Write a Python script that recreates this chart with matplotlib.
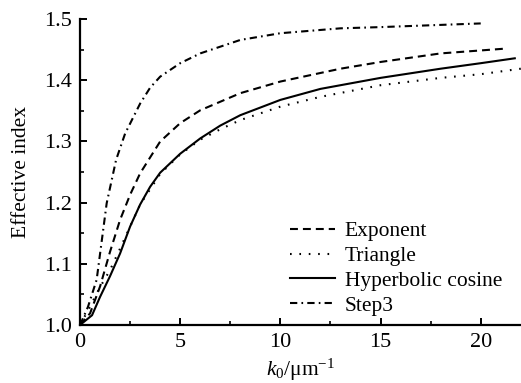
import matplotlib
matplotlib.use("Agg")
import matplotlib.pyplot as plt
from matplotlib.ticker import MultipleLocator

plt.rcParams['font.family'] = ['Liberation Serif', 'DejaVu Serif']
plt.rcParams['mathtext.fontset'] = 'custom'
plt.rcParams['mathtext.rm'] = 'Liberation Serif'
plt.rcParams['mathtext.it'] = 'Liberation Serif:italic'

# Effective index vs k0 for four refractive-index profiles
k_exp = [0, 0.5, 1, 1.5, 2, 2.5, 3, 4, 5, 6, 8, 10, 13, 15, 18, 21.3]
n_exp = [1.0, 1.019, 1.063, 1.12, 1.172, 1.213, 1.248, 1.3, 1.33, 1.351, 1.379, 1.398, 1.419, 1.430, 1.444, 1.452]

k_tri = [0, 0.5, 1, 1.5, 2, 3, 4, 5, 6, 7, 8, 10, 12, 15, 18, 20, 22]
n_tri = [1.0, 1.03, 1.062, 1.09, 1.125, 1.197, 1.247, 1.279, 1.303, 1.32, 1.335, 1.357, 1.373, 1.392, 1.404, 1.410, 1.419]

k_cosh = [0, 0.6, 1, 1.5, 2, 2.5, 3, 3.5, 4, 5, 6, 7, 8, 10, 12, 15, 18, 20, 21.7]
n_cosh = [1.0, 1.016, 1.046, 1.08, 1.117, 1.161, 1.197, 1.226, 1.249, 1.28, 1.305, 1.326, 1.343, 1.368, 1.386, 1.404, 1.419, 1.428, 1.436]

k_step = [0, 0.4, 0.83, 1.33, 1.8, 2.25, 3, 3.5, 4, 5, 6, 8, 10, 13, 15, 20]
n_step = [1.0, 1.03, 1.074, 1.199, 1.27, 1.313, 1.362, 1.388, 1.406, 1.428, 1.444, 1.466, 1.477, 1.485, 1.487, 1.493]

fig = plt.figure(figsize=(5.21, 3.83), dpi=100)
ax = fig.add_axes([0.1536, 0.1514, 0.846, 0.7986])

lw = 1.5
ax.plot(k_exp, n_exp, color='black', lw=lw, linestyle=(0, (3.8, 2.4)), label='Exponent')
ax.plot(k_tri, n_tri, color='black', lw=lw, linestyle=(0, (0.8, 3.7)), label='Triangle')
ax.plot(k_cosh, n_cosh, color='black', lw=lw, linestyle='-', label='Hyperbolic cosine')
ax.plot(k_step, n_step, color='black', lw=lw, linestyle=(0, (3.5, 2, 0.8, 2)), label='Step3')

ax.set_xlim(0, 22)
ax.set_ylim(1.0, 1.5)
ax.xaxis.set_minor_locator(MultipleLocator(2.5))
ax.yaxis.set_minor_locator(MultipleLocator(0.05))
ax.set_xticks([0, 5, 10, 15, 20])
ax.set_yticks([1.0, 1.1, 1.2, 1.3, 1.4, 1.5])
ax.set_yticklabels(['1.0', '1.1', '1.2', '1.3', '1.4', '1.5'])

for s in ['top', 'right']:
    ax.spines[s].set_visible(False)
for s in ['left', 'bottom']:
    ax.spines[s].set_linewidth(1.6)

ax.tick_params(which='major', direction='in', length=5, width=1.4, labelsize=16, pad=6)
ax.tick_params(which='minor', direction='in', length=3, width=1.2)

ax.set_xlabel(r'$k_0$/μm$^{-1}$', fontsize=15.5, labelpad=3)
ax.set_ylabel('Effective index', fontsize=15.5, labelpad=9)

leg = ax.legend(loc='lower left', bbox_to_anchor=(0.476, 0.03), frameon=False,
                fontsize=15.5, handlelength=2.1, handletextpad=0.45,
                labelspacing=0.22, borderaxespad=0, borderpad=0)

fig.savefig('out.png', dpi=100)
